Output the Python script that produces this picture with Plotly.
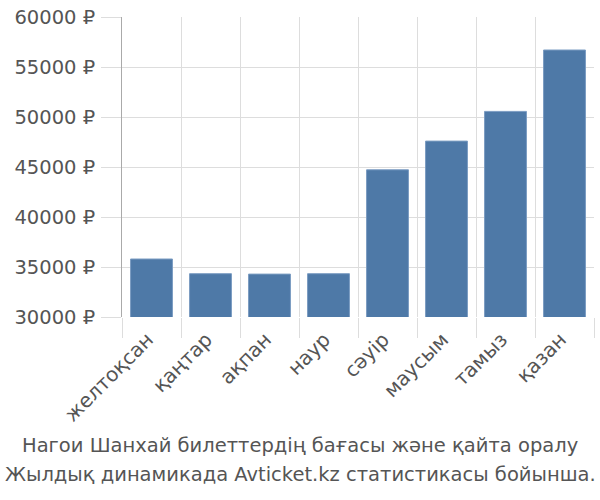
import plotly.graph_objects as go

categories = ["желтоқсан", "қаңтар", "ақпан", "наур", "сәуір", "маусым", "тамыз", "қазан"]
prices = [35800, 34330, 34290, 34330, 44720, 47590, 50560, 56700]
y_ticks = [30000, 35000, 40000, 45000, 50000, 55000, 60000]
title_lines = ["Нагои Шанхай билеттердің бағасы және қайта оралу",
               "Жылдық динамикада Avticket.kz статистикасы бойынша."]

grid = "#dddddd"
txt = "#555555"
FONT = "DejaVu Sans, Liberation Sans, Arial, sans-serif"
FS = 19.5

# plot area in pixels: left 122, right 594, top 14, bottom 317
PL, PR, PT, PB = 122, 594, 14, 317
def px_x(p):
    return (p - PL) / (PR - PL)
def px_y(p):
    return (PB - p) / (PB - PT)

fig = go.Figure(go.Bar(
    x=categories, y=prices,
    marker=dict(color="#4e79a7", line=dict(color="#7b9cc2", width=1)),
    hoverinfo="skip",
))

anns = []
for line, ymid in zip(title_lines, [447, 476]):
    anns.append(dict(
        text=line, xref="paper", yref="paper",
        x=px_x(300), xanchor="center", y=px_y(ymid), yanchor="middle",
        showarrow=False, font=dict(family=FONT, size=FS, color=txt),
    ))

fig.update_layout(
    width=600, height=500,
    margin=dict(l=PL, r=600 - PR, t=PT, b=500 - PB),
    paper_bgcolor="white", plot_bgcolor="white",
    font=dict(family=FONT, size=FS, color=txt),
    bargap=0.29,
    showlegend=False,
    annotations=anns,
)
fig.update_xaxes(
    type="category", tickson="boundaries", showgrid=True, gridcolor=grid, gridwidth=1,
    ticks="outside", ticklen=20, tickcolor=grid, tickangle=-45,
    showline=False, zeroline=False, tickfont=dict(family=FONT, size=20, color=txt),
    ticklabelstandoff=6, ticklabelshift=-4,
)
fig.update_yaxes(
    range=[30000, 60000], tickvals=y_ticks, ticktext=[f"{v} ₽" for v in y_ticks],
    showgrid=True, gridcolor=grid, gridwidth=1,
    ticks="outside", ticklen=20, tickcolor=grid,
    showline=True, linecolor="#aaaaaa", linewidth=1, zeroline=False,
    tickfont=dict(family=FONT, size=FS, color=txt), ticklabelstandoff=2,
)

fig.write_html("out.html")
